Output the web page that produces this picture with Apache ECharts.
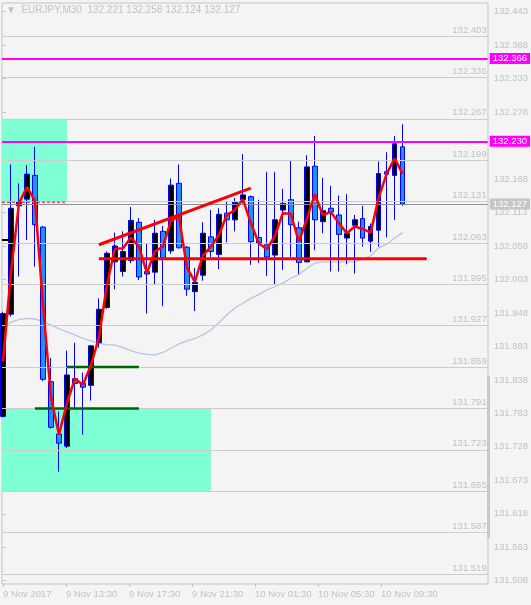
<!DOCTYPE html>
<html><head><meta charset="utf-8">
<script src="https://cdn.jsdelivr.net/npm/echarts@6/dist/echarts.min.js"></script>
<style>html,body{margin:0;padding:0;background:#f4f4f4;}#c{width:531px;height:605px;}</style>
</head><body><div id="c"></div>
<script>
// ---------- data ----------
const symbolName = 'EURJPY,M30';
const lastOHLC = [132.221, 132.258, 132.124, 132.127];
// candles: [open, close, low, high], one per 30-minute bar
const candles = [
  [131.778, 131.947, 131.776, 131.950],
  [131.946, 132.120, 131.942, 132.192],
  [132.124, 132.131, 132.008, 132.161],
  [132.135, 132.176, 132.068, 132.191],
  [132.174, 132.093, 132.024, 132.221],
  [132.089, 131.839, 131.836, 132.091],
  [131.835, 131.760, 131.758, 131.874],
  [131.749, 131.734, 131.687, 131.786],
  [131.729, 131.846, 131.726, 131.886],
  [131.840, 131.832, 131.791, 131.899],
  [131.832, 131.826, 131.748, 131.850],
  [131.829, 131.894, 131.804, 131.895],
  [131.899, 131.954, 131.891, 131.972],
  [131.957, 132.046, 131.955, 132.049],
  [132.032, 132.058, 131.987, 132.080],
  [132.016, 132.049, 132.008, 132.082],
  [132.034, 132.100, 132.030, 132.122],
  [132.097, 132.007, 132.002, 132.104],
  [132.016, 132.012, 131.947, 132.062],
  [132.015, 132.079, 131.995, 132.101],
  [132.082, 132.038, 131.959, 132.091],
  [132.050, 132.158, 132.045, 132.169],
  [132.161, 132.055, 132.054, 132.192],
  [132.056, 131.987, 131.976, 132.058],
  [131.983, 131.998, 131.951, 132.022],
  [132.010, 132.079, 132.001, 132.097],
  [132.073, 132.049, 132.040, 132.117],
  [132.044, 132.110, 132.020, 132.120],
  [132.112, 132.101, 132.064, 132.132],
  [132.101, 132.130, 132.082, 132.137],
  [132.134, 132.142, 132.128, 132.209],
  [132.139, 132.065, 132.027, 132.141],
  [132.072, 132.063, 132.030, 132.134],
  [132.060, 132.040, 132.009, 132.180],
  [132.043, 132.101, 131.994, 132.180],
  [132.117, 132.128, 132.019, 132.152],
  [132.134, 132.093, 132.040, 132.199],
  [132.088, 132.031, 132.012, 132.098],
  [132.032, 132.188, 132.031, 132.207],
  [132.189, 132.101, 132.051, 132.239],
  [132.098, 132.116, 132.079, 132.170],
  [132.120, 132.114, 132.016, 132.157],
  [132.109, 132.077, 132.016, 132.141],
  [132.071, 132.079, 132.028, 132.143],
  [132.092, 132.101, 132.013, 132.109],
  [132.103, 132.071, 132.057, 132.124],
  [132.066, 132.090, 132.048, 132.095],
  [132.084, 132.177, 132.057, 132.197],
  [132.180, 132.176, 132.072, 132.212],
  [132.174, 132.226, 132.101, 132.239],
  [132.221, 132.127, 132.124, 132.258]
];
const fastLine = [131.868, 132.015, 132.128, 132.155, 132.132, 131.962, 131.810, 131.748, 131.800, 131.840,
  131.830, 131.862, 131.908, 131.994, 132.054, 132.054, 132.072, 132.057, 132.014, 132.049,
  132.057, 132.099, 132.107, 132.023, 131.999, 132.042, 132.057, 132.076, 132.109, 132.117,
  132.135, 132.096, 132.062, 132.053, 132.074, 132.112, 132.111, 132.065, 132.102, 132.143,
  132.109, 132.114, 132.096, 132.079, 132.090, 132.086, 132.080, 132.138, 132.177, 132.202, 132.176];
const slowLine = [131.923, 131.933, 131.937, 131.939, 131.938, 131.934, 131.928, 131.922, 131.917, 131.912,
  131.906, 131.902, 131.898, 131.896, 131.895, 131.891, 131.886, 131.882, 131.880, 131.879,
  131.883, 131.890, 131.897, 131.902, 131.906, 131.912, 131.920, 131.932, 131.945, 131.956,
  131.964, 131.972, 131.978, 131.986, 131.991, 131.997, 132.005, 132.011, 132.021, 132.030,
  132.032, 132.032, 132.032, 132.032, 132.032, 132.036, 132.042, 132.055, 132.061, 132.071, 132.080];
const xLabels = ['9 Nov 2017', '9 Nov 13:30', '9 Nov 17:30', '9 Nov 21:30', '10 Nov 01:30', '10 Nov 05:30', '10 Nov 09:30'];
const yTickMin = 131.508, yTickMax = 132.443, yTickStep = 0.055;
const levelLines = [132.403, 132.335, 132.267, 132.199, 132.131, 132.063, 131.995, 131.927, 131.859, 131.791, 131.723, 131.655, 131.587, 131.519];
const magentaLevels = [132.366, 132.230];
const lastPrice = 132.127;
// zones: [xStart, xEnd, priceTop, priceBottom] in bar units
const zones = [[-0.125, 8, 132.267, 132.131], [-0.125, 26, 131.791, 131.655]];
const trendUp = [[12, 132.060], [31, 132.153]];
const supportLine = [[12, 132.037], [53, 132.037]];
const greenHigh = [[8, 131.859], [17, 131.859]];
const greenLow = [[4, 131.791], [17, 131.791]];
const redDash = [[-0.125, 132.130], [8, 132.130]];
const blackMark = [[-0.125, 132.068], [0.9, 132.068]];

// ---------- chart ----------
const X_MIN = -0.125, X_MAX = 60.625;
const GRAY = '#c2c2c2';
const FONT = 'Liberation Sans';
const chart = echarts.init(document.getElementById('c'));

function seg(name, data, color, width, z, type) {
  return {name, type: 'line', xAxisIndex: 1, yAxisIndex: 1, data, showSymbol: false, symbol: 'none', silent: true, z,
    lineStyle: {color, width, type: type || 'solid'}};
}
const fmt3 = p => Number(p.value).toFixed(3);

const option = {
  backgroundColor: '#f4f4f4',
  animation: false,
  grid: [
    {left: 2, right: 43, top: 3, bottom: 21, show: true, borderColor: '#c4c4c4', borderWidth: 1, backgroundColor: 'transparent'},
    {left: 2, right: 43, top: 11.7, height: 569},
    {left: 3, width: 378, bottom: 21, height: 10}
  ],
  xAxis: [
    {gridIndex: 0, type: 'value', show: false, min: 0, max: 1},
    {gridIndex: 1, type: 'value', show: false, min: X_MIN, max: X_MAX},
    {gridIndex: 2, type: 'value', min: 0, max: xLabels.length - 1, interval: 1,
      axisLine: {show: false}, splitLine: {show: false},
      axisTick: {show: true, length: 3, lineStyle: {color: GRAY}},
      axisLabel: {align: 'left', margin: 5, color: GRAY, fontSize: 9.5, fontFamily: FONT,
        formatter: v => xLabels[Math.round(v)] || ''}}
  ],
  yAxis: [
    {gridIndex: 0, type: 'value', show: false, min: 0, max: 1},
    {gridIndex: 1, type: 'value', position: 'right', min: yTickMin, max: yTickMax, interval: yTickStep,
      axisLine: {show: false}, splitLine: {show: false},
      axisTick: {show: true, length: 3, lineStyle: {color: GRAY}},
      axisLabel: {margin: 6, color: GRAY, fontSize: 9.5, fontFamily: FONT, formatter: v => v.toFixed(3)}},
    {gridIndex: 2, type: 'value', show: false}
  ],
  graphic: [
    {type: 'text', left: 6, top: 5, silent: true,
      style: {text: '\u25BC  ' + symbolName + '  ' + lastOHLC.map(v => v.toFixed(3)).join(' '),
        fill: GRAY, font: '10px "Liberation Sans"'}},
    {type: 'rect', left: 487, top: 376, shape: {width: 3, height: 162}, style: {fill: '#c8c8c8'}, silent: true}
  ],
  series: [
    {name: 'zones', type: 'line', xAxisIndex: 1, yAxisIndex: 1, data: [], z: 1, silent: true,
      markArea: {silent: true, itemStyle: {color: '#7fffd4'},
        data: zones.map(a => [{xAxis: a[0], yAxis: a[2]}, {xAxis: a[1], yAxis: a[3]}])}},
    {name: 'levels', type: 'line', xAxisIndex: 1, yAxisIndex: 1, data: [], z: 2, silent: true,
      markLine: {silent: true, symbol: ['none', 'none'], animation: false, precision: 3,
        lineStyle: {color: '#cdcdcd', width: 1, type: 'solid'},
        label: {position: 'insideEndTop', distance: [1, 1], color: GRAY, fontSize: 9.5, fontFamily: FONT, formatter: fmt3},
        data: levelLines.map(v => ({yAxis: v}))}},
    seg('slow MA', slowLine.map((v, i) => [i, v]), '#b4c6e0', 1.3, 3),
    {name: 'EURJPY', type: 'candlestick', xAxisIndex: 1, yAxisIndex: 1, barWidth: 5, z: 4, silent: true,
      data: candles.map((c, i) => [i, c[0], c[1], c[2], c[3]]),
      itemStyle: {color: '#000000', color0: '#1e90ff', borderColor: '#0000ff', borderColor0: '#0000ff', borderWidth: 1},
      markLine: {silent: true, symbol: ['none', 'none'], animation: false, precision: 3,
        data: magentaLevels.map(v => ({yAxis: v,
            lineStyle: {color: '#ff00ff', width: 2, type: 'solid'},
            label: {show: true, position: 'end', distance: 2, backgroundColor: '#ff00ff', color: '#ffffff',
              padding: [1, 3, 0, 3], fontSize: 9.5, fontFamily: FONT, formatter: fmt3}}))
          .concat([{yAxis: lastPrice,
            lineStyle: {color: '#8b929c', width: 1, type: 'solid'},
            label: {show: true, position: 'end', distance: 2, backgroundColor: '#c6c6c6', color: '#ffffff',
              padding: [1, 3, 0, 3], fontSize: 9.5, fontFamily: FONT, formatter: fmt3}}])}},
    seg('red dash', redDash, '#ff0000', 1, 5, [3, 2]),
    seg('mark', blackMark, '#000000', 2, 5),
    seg('green high', greenHigh, '#006400', 2.5, 5),
    seg('green low', greenLow, '#006400', 2.5, 5),
    seg('trend up', trendUp, '#ff0000', 3, 6),
    seg('support', supportLine, '#ff0000', 3, 6),
    seg('fast MA', fastLine.map((v, i) => [i, v]), '#ff0000', 2.5, 7)
  ]
};
chart.setOption(option);
</script>
</body></html>
